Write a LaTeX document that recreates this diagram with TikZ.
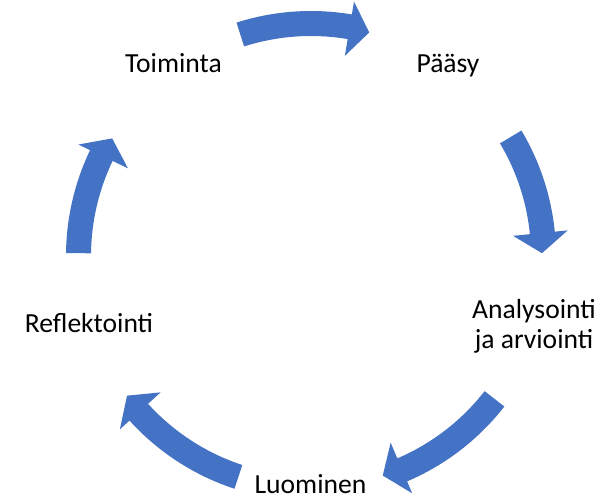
\documentclass[tikz,border=0pt]{standalone}
\usepackage{fontspec}
\setmainfont{Carlito}
\definecolor{smartblue}{HTML}{4472C4}

\begin{document}
\begin{tikzpicture}[x=.5pt,y=.5pt,
    cyclelabel/.style={font=\fontsize{13.8}{15}\selectfont, inner sep=0pt, align=center},
    arrowfill/.style={fill=smartblue}]

    \useasboundingbox (0,0) rectangle (613,499);
    \coordinate (ctr) at (311,243);

    \def\cyclearrow#1#2{
        \fill[arrowfill, shift={(ctr)}]
            ({#1}:245) arc[start angle=#1, end angle=#2+5, radius=245]
            -- ({#2+5}:258) -- ({#2}:231) -- ({#2+5}:203) -- ({#2+5}:220)
            arc[start angle=#2+5, end angle=#1, radius=220] -- cycle;
    }

    \cyclearrow{107.7}{75.4}
    \cyclearrow{30.8}{0.7}
    \cyclearrow{-37.9}{-71.9}
    \cyclearrow{-108.2}{-142.8}
    \cyclearrow{179.3}{149.4}

    \node [cyclelabel, anchor=base] (toiminta) at (173.5,427) {Toiminta};
    \node [cyclelabel, anchor=base] (paasy) at (448,426) {Pääsy};
    \node [cyclelabel] (analysointi) at (534,172.5) {Analysointi\\ja arviointi};
    \node [cyclelabel, anchor=base] (luominen) at (310.5,6) {Luominen};
    \node [cyclelabel, anchor=base] (reflektointi) at (89,167) {Reflektointi};

\end{tikzpicture}
\end{document}
